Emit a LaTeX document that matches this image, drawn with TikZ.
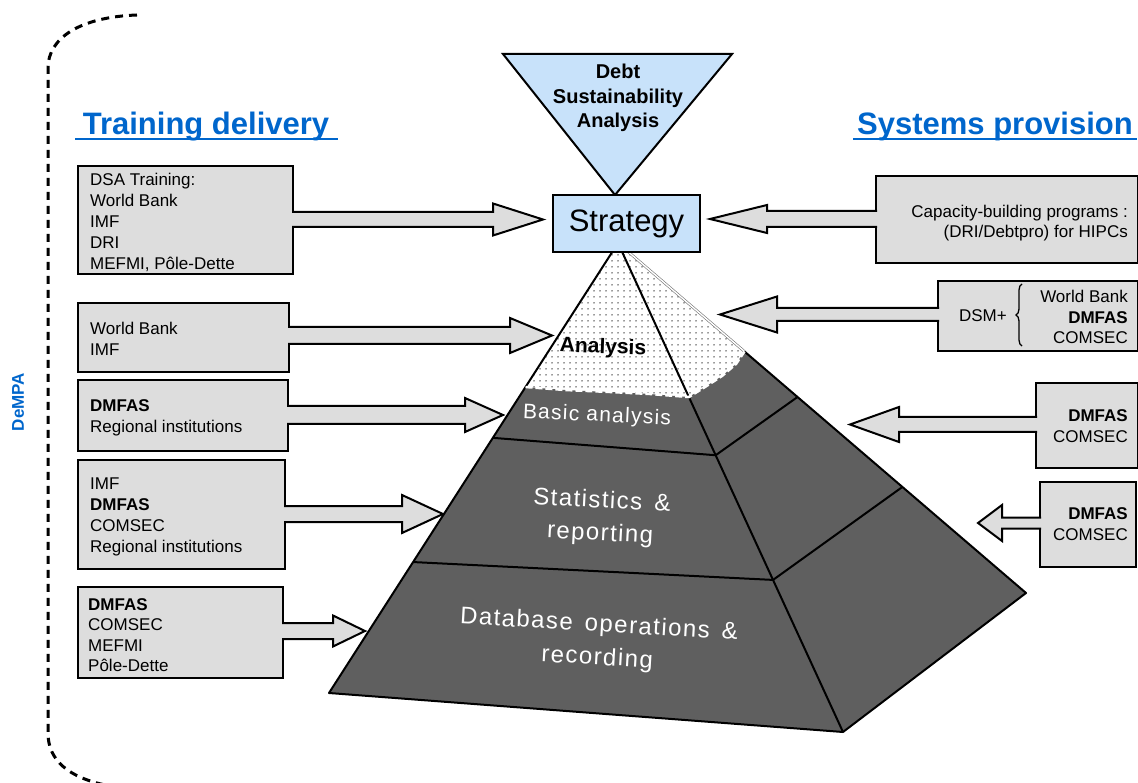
\documentclass[tikz,border=0pt]{standalone}
\usepackage{fontspec}
\setmainfont{Liberation Sans}
\newfontfamily\pyrfont[LetterSpace=6]{Liberation Sans}
\usetikzlibrary{calc,patterns.meta,decorations.pathreplacing}
\definecolor{boxgray}{RGB}{221,221,221}
\definecolor{pyrgray}{RGB}{95,95,95}
\definecolor{lblue}{RGB}{200,226,250}
\definecolor{tblue}{RGB}{0,102,204}
\newcommand\fs[2]{\fontsize{#1}{#2}\selectfont}
% block arrow: #1 start point (box side), #2 tip, #3 head-back offset from tip, #4 half shaft, #5 half head
\newcommand\barrow[5]{%
  \fill[boxgray] let \p1=(#1), \p2=(#2) in
    ({\x1},{\y2+#4pt}) -- ({\x2+(#3pt)},{\y2+#4pt}) -- ({\x2+(#3pt)},{\y2+#5pt}) -- (\x2,\y2)
    -- ({\x2+(#3pt)},{\y2-#5pt}) -- ({\x2+(#3pt)},{\y2-#4pt}) -- ({\x1},{\y2-#4pt}) -- cycle;
  \draw[arrline] let \p1=(#1), \p2=(#2) in
    ({\x1},{\y2+#4pt}) -- ({\x2+(#3pt)},{\y2+#4pt}) -- ({\x2+(#3pt)},{\y2+#5pt}) -- (\x2,\y2)
    -- ({\x2+(#3pt)},{\y2-#5pt}) -- ({\x2+(#3pt)},{\y2-#4pt}) -- ({\x1},{\y2-#4pt});
}
\begin{document}
\begin{tikzpicture}[x=1pt,y=-1pt,
  lbox/.style={draw, fill=boxgray, line width=2pt, anchor=north west, inner sep=0pt},
  btext/.style={font=\fs{17}{21}, inner sep=0pt},
  arrline/.style={draw=black, line width=2pt, line join=miter},
  pline/.style={draw=black, line width=2pt, line join=round},
  ptext/.style={text=white, font=\pyrfont\fs{24}{33}, align=center, inner sep=0pt},
  title/.style={text=tblue, font=\bfseries\fs{31}{31}, inner sep=0pt, anchor=base}]
\useasboundingbox (0,0) rectangle (1138,783);

% ---------- DeMPA bracket ----------
\draw[line width=3pt, dash pattern=on 8pt off 6pt]
  (137,15) .. controls (80,17) and (48,38) .. (48,68) -- (48,733)
  .. controls (48,760) and (68,778) .. (110,786);
\node[rotate=90, text=tblue, font=\bfseries\fs{17}{17}, inner sep=0pt] (dempa) at (18,402) {DeMPA};

% ---------- titles ----------
\node[title] (td) at (206,135) {Training delivery};
\draw[tblue, line width=2.4pt] (75,139) -- (338,139);
\node[title] (sp) at (995,135) {Systems provision};
\draw[tblue, line width=2.4pt] (853,139) -- (1137,139);

% ---------- pyramid ----------
\coordinate (apex) at (618,243);
\coordinate (BL) at (329,693);
\coordinate (BF) at (843,732);
\coordinate (BR) at (1026,593);
\coordinate (L1) at ($(apex)!0.32!(BL)$);
\coordinate (F1) at ($(apex)!0.315!(BF)$);
\coordinate (K1) at ($(apex)!0.31!(BR)$);
\coordinate (L2) at ($(apex)!0.433!(BL)$);
\coordinate (F2) at ($(apex)!0.434!(BF)$);
\coordinate (K2) at ($(apex)!0.44!(BR)$);
\coordinate (L3) at ($(apex)!0.709!(BL)$);
\coordinate (F3) at ($(apex)!0.689!(BF)$);
\coordinate (K3) at ($(apex)!0.697!(BR)$);

\path[preaction={fill=white}, pattern={Dots[distance=6pt, radius=0.75pt]}, pattern color=black!80]
  (apex) -- (L1) -- (565,390) -- (610,392) -- (650,394) -- (F1) -- (705,387) -- (722,376) -- (736,364) -- (K1) -- cycle;
\fill[pyrgray] (L1) -- (BL) -- (BF) -- (BR) -- (K1) -- (736,364) -- (722,376) -- (705,387)
  -- (F1) -- (650,394) -- (610,392) -- (565,390) -- cycle;

\draw[black!55, line width=0.6pt, double=white, double distance=1.4pt] (apex) -- (K1);
\draw[pline] (apex) -- (BL) -- (BF) -- (BR) -- (K1);
\draw[pline] (apex) -- (BF);
\draw[pline] (L2) -- (F2) -- (K2);
\draw[pline] (L3) -- (F3) -- (K3);
\draw[white, line width=2.5pt, dash pattern=on 7pt off 3pt]
  (L1) -- (565,390) -- (610,392) -- (650,394) -- (F1) -- (705,387) -- (722,376) -- (736,364) -- (K1);

\node[font=\bfseries\fs{21}{21}, rotate=-2, inner sep=0pt] (lan) at (603,348) {Analysis};
\node[ptext, font=\pyrfont\fs{21}{21}, rotate=-2.6] (lba) at (597,416) {Basic analysis};
\node[ptext, rotate=-3] (lst) at (601,518) {Statistics \,\&\\reporting};
\node[ptext, rotate=-3.3] (ldb) at (598,642) {Database \,operations \,\&\\recording};

% ---------- DSA triangle and strategy ----------
\draw[fill=lblue, line width=2pt, line join=miter] (503,54) -- (732,54) -- (615,195) -- cycle;
\node[font=\bfseries\fs{20}{24.5}, align=center, inner sep=0pt] (dsa) at (618,98) {Debt\\Sustainability\\Analysis};
\node[draw, fill=lblue, line width=2pt, minimum width=147pt, minimum height=57pt, inner sep=0pt,
  font=\fs{31}{31}] (strat) at (626.5,223.5) {Strategy};

% ---------- left boxes ----------
\node[lbox, minimum width=215pt, minimum height=108pt] (b1) at (77,165) {};
\node[lbox, minimum width=211pt, minimum height=69pt] (b2) at (77,302) {};
\node[lbox, minimum width=210pt, minimum height=71pt] (b3) at (77,379) {};
\node[lbox, minimum width=207pt, minimum height=109pt] (b4) at (77,459) {};
\node[lbox, minimum width=205pt, minimum height=91pt] (b5) at (77,586) {};

\node[btext, align=left, anchor=west] (b1t) at (90,222) {DSA Training:\\World Bank\\IMF\\DRI\\MEFMI, Pôle-Dette};
\node[btext, align=left, anchor=west] (b2t) at (90,339) {World Bank\\IMF};
\node[btext, align=left, anchor=west] (b3t) at (90,418) {\textbf{DMFAS}\\Regional institutions};
\node[btext, align=left, anchor=west] (b4t) at (90,517) {IMF\\\textbf{DMFAS}\\COMSEC\\Regional institutions};
\node[btext, align=left, anchor=west, font=\fs{17}{20.5}] (b5t) at (88,635) {\textbf{DMFAS}\\COMSEC\\MEFMI\\Pôle-Dette};

% ---------- right boxes ----------
\node[lbox, minimum width=262pt, minimum height=87pt] (r1) at (875,175) {};
\node[lbox, minimum width=200pt, minimum height=70pt] (r2) at (937,280) {};
\node[lbox, minimum width=102pt, minimum height=85pt] (r3) at (1035,382) {};
\node[lbox, minimum width=96pt, minimum height=85pt] (r4) at (1039,481) {};

\node[btext, align=right, anchor=east, font=\fs{17}{20}] (r1t) at (1128,223) {Capacity-building programs :\\(DRI/Debtpro) for HIPCs};
\node[btext, align=right, anchor=east, font=\fs{17}{20.5}] (r2t) at (1128,317) {World Bank\\\textbf{DMFAS}\\COMSEC};
\node[btext, anchor=east] (dsm) at (1007,316) {DSM+};
\coordinate (brb) at (1022,346);
\coordinate (brt) at (1022,284);
\draw[line width=1.3pt, decorate, decoration={brace, amplitude=6pt}] (brb) -- (brt);
\node[btext, align=right, anchor=east] (r3t) at (1128,426) {\textbf{DMFAS}\\COMSEC};
\node[btext, align=right, anchor=east] (r4t) at (1128,524) {\textbf{DMFAS}\\COMSEC};

% ---------- block arrows ----------
\coordinate (t1) at (543,219.5);
\coordinate (t2) at (552,335.5);
\coordinate (t3) at (503,415);
\coordinate (t4) at (443,514);
\coordinate (t5) at (365,631);
\coordinate (u1) at (710,219);
\coordinate (u2) at (720,314.5);
\coordinate (u3) at (850,424.5);
\coordinate (u4) at (978,523);
\barrow{[xshift=-2pt]b1.east}{t1}{-50}{7.5}{16}
\barrow{[xshift=-2pt]b2.east}{t2}{-42}{8.5}{17.5}
\barrow{[xshift=-2pt]b3.east}{t3}{-38}{9}{17}
\barrow{[xshift=-2pt]b4.east}{t4}{-41}{8}{19}
\barrow{[xshift=-2pt]b5.east}{t5}{-32}{8}{15.5}
\barrow{[xshift=2pt]r1.west}{u1}{57}{8}{14}
\barrow{[xshift=2pt]r2.west}{u2}{57}{6.5}{18}
\barrow{[xshift=2pt]r3.west}{u3}{49}{7.5}{17.5}
\barrow{[xshift=2pt]r4.west}{u4}{24}{5.5}{18}
\end{tikzpicture}
\end{document}
